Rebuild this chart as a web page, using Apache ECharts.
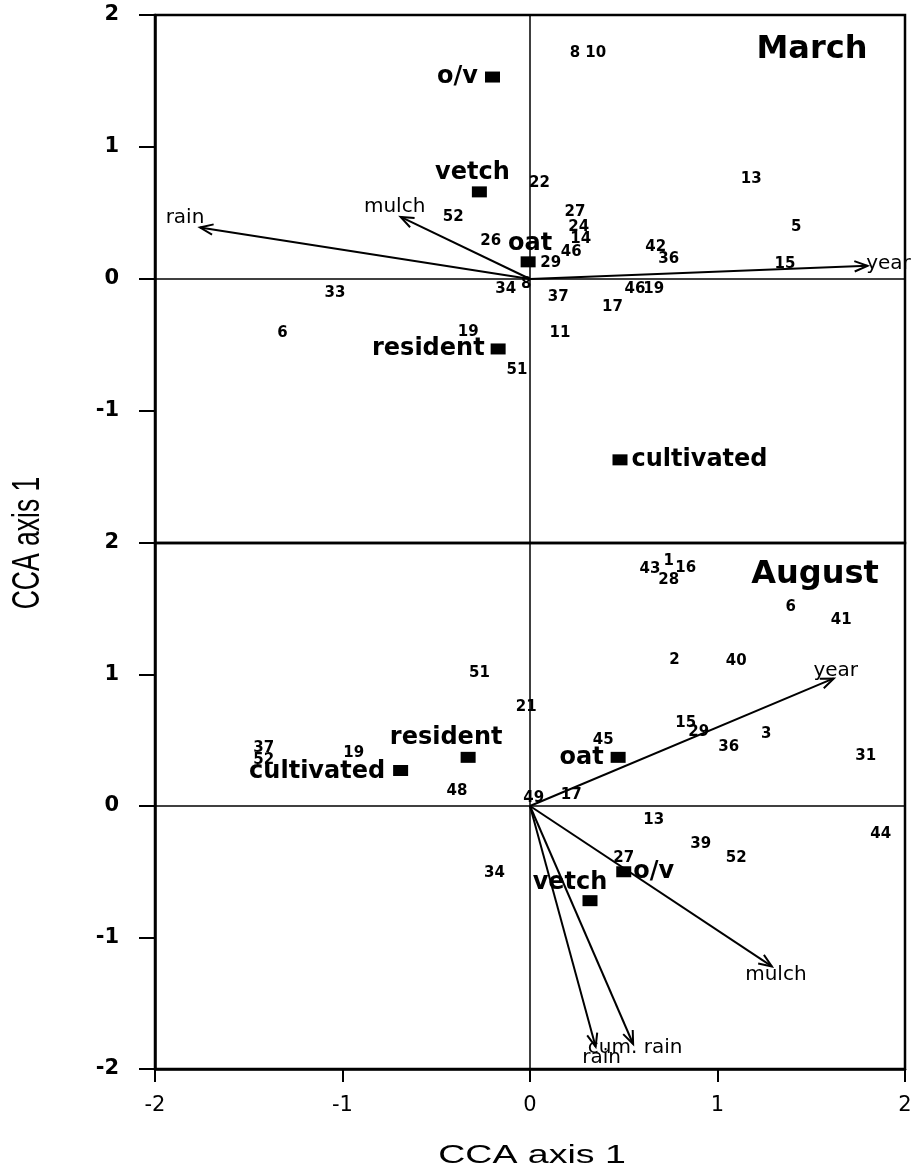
<!DOCTYPE html>
<html><head><meta charset="utf-8">
<script src="https://cdn.jsdelivr.net/npm/echarts@6/dist/echarts.min.js"></script>
<style>html,body{margin:0;padding:0;background:#fff}#c{width:917px;height:1171px}</style>
</head><body><div id="c"></div>
<script>
// ---------------- data ----------------
const axisMin = -2, axisMax = 2, axisStep = 1;

// March panel: sample (site) scores
const marchSampleIds = ['8','10','22','13','27','24','14','46','29','42','36','5','15','52','26','33','34','8','6','19','51','37','46','19','17','11'];
const marchSampleX   = [0.24,0.35,0.05,1.18,0.24,0.26,0.27,0.22,0.11,0.67,0.74,1.42,1.36,-0.41,-0.21,-1.04,-0.13,-0.02,-1.32,-0.33,-0.07,0.15,0.56,0.66,0.44,0.16];
const marchSampleY   = [1.71,1.71,0.73,0.76,0.51,0.39,0.30,0.20,0.12,0.24,0.15,0.39,0.11,0.47,0.29,-0.11,-0.08,-0.04,-0.41,-0.40,-0.69,-0.14,-0.08,-0.08,-0.21,-0.41];
// March panel: treatment centroids
const marchTreatNames = ['o/v','vetch','oat','resident','cultivated'];
const marchTreatX     = [-0.20,-0.27,-0.01,-0.17,0.48];
const marchTreatY     = [1.53,0.66,0.13,-0.53,-1.37];
// March panel: environmental arrows
const marchEnvNames = ['rain','mulch','year'];
const marchEnvX     = [-1.76,-0.69,1.80];
const marchEnvY     = [0.39,0.47,0.10];

// August panel: sample scores
const augSampleIds = ['43','1','16','28','6','41','2','40','21','15','29','3','36','45','31','49','17','51','37','52','19','48','13','39','52','44','27','34'];
const augSampleX   = [0.64,0.74,0.83,0.74,1.39,1.66,0.77,1.10,-0.02,0.83,0.90,1.26,1.06,0.39,1.79,0.02,0.22,-0.27,-1.42,-1.42,-0.94,-0.39,0.66,0.91,1.10,1.87,0.50,-0.19];
const augSampleY   = [1.80,1.86,1.81,1.72,1.51,1.41,1.11,1.10,0.75,0.63,0.56,0.55,0.45,0.50,0.38,0.06,0.08,1.01,0.44,0.35,0.40,0.11,-0.11,-0.29,-0.40,-0.21,-0.40,-0.51];
// August panel: treatment centroids
const augTreatNames = ['cultivated','resident','oat','o/v','vetch'];
const augTreatX     = [-0.69,-0.33,0.47,0.50,0.32];
const augTreatY     = [0.27,0.37,0.37,-0.50,-0.72];
// August panel: environmental arrows
const augEnvNames = ['year','mulch','rain','cum. rain'];
const augEnvX     = [1.62,1.29,0.35,0.55];
const augEnvY     = [0.97,-1.22,-1.83,-1.81];

// ---------------- label placement (styling, not data) ----------------
const treatPlace = {
  march: {'o/v':['left',7,[0,0]], 'vetch':['top',2,[-7,0]], 'oat':['top',1,[2,0]], 'resident':['left',6,[0,0]], 'cultivated':['right',4,[0,0]]},
  august:{'cultivated':['left',8,[0,1]], 'resident':['top',2,[-22,0]], 'oat':['left',7,[0,0]], 'o/v':['right',2,[0,0]], 'vetch':['top',0,[-20,0]]}
};
const envPlace = {
  march: {'rain':[-15,-10], 'mulch':[-6,-10], 'year':[21,-2]},
  august:{'year':[2,-8], 'mulch':[4,8], 'rain':[6,11], 'cum. rain':[2,4]}
};

// ---------------- build ----------------
function samples(ids, xs, ys){ return ids.map((n,i)=>({name:n, value:[xs[i], ys[i]]})); }
function treats(names, xs, ys, place){
  return names.map((n,i)=>{
    const p = place[n];
    return {name:n, value:[xs[i], ys[i]], label:{position:p[0], distance:p[1], offset:p[2]}};
  });
}
function envSeries(names, xs, ys, place, idx){
  return {
    type:'custom', xAxisIndex:idx, yAxisIndex:idx, z:5, silent:true,
    data: names.map((n,i)=>[xs[i], ys[i]]),
    encode:{x:0, y:1},
    renderItem:function(params, api){
      const p0 = api.coord([0,0]);
      const p1 = api.coord([api.value(0), api.value(1)]);
      const ang = Math.atan2(p1[1]-p0[1], p1[0]-p0[0]);
      const L = 14, s = 0.38;
      const h1 = [p1[0]-L*Math.cos(ang-s), p1[1]-L*Math.sin(ang-s)];
      const h2 = [p1[0]-L*Math.cos(ang+s), p1[1]-L*Math.sin(ang+s)];
      const name = names[params.dataIndex];
      const off = place[name];
      return {type:'group', children:[
        {type:'line', shape:{x1:p0[0], y1:p0[1], x2:p1[0], y2:p1[1]}, style:{stroke:'#000', lineWidth:2}},
        {type:'polyline', shape:{points:[h1,p1,h2]}, style:{stroke:'#000', lineWidth:2, fill:null}},
        {type:'text', x:p1[0]+off[0], y:p1[1]+off[1], style:{text:name, fontFamily:'DejaVu Sans', fontSize:20, fill:'#000',
          align:'center', verticalAlign:'middle', textAlign:'center', textVerticalAlign:'middle'}}
      ]};
    }
  };
}
const zeroLines = {
  silent:true, symbol:['none','none'], label:{show:false}, animation:false,
  lineStyle:{color:'#000', width:1.5, type:'solid', opacity:1},
  data:[{xAxis:0},{yAxis:0}]
};
const sampleLabel = {show:true, position:'inside', formatter:'{b}', color:'#000', opacity:1, fontFamily:'DejaVu Sans', fontWeight:'bold', fontSize:15};
const treatLabel = {show:true, formatter:'{b}', color:'#000', opacity:1, fontFamily:'DejaVu Sans', fontWeight:'bold', fontSize:24};

function yAxisCfg(idx, showMin){
  return {gridIndex:idx, type:'value', min:axisMin, max:axisMax, interval:axisStep,
    axisLine:{show:true, onZero:false, lineStyle:{color:'#000', width:2.5}},
    axisTick:{show:true, length:16, lineStyle:{color:'#000', width:2}},
    axisLabel:{showMinLabel:showMin, color:'#000', fontFamily:'DejaVu Sans', fontWeight:'bold', fontSize:21, margin:36},
    splitLine:{show:false}};
}

const option = {
  animation:false,
  backgroundColor:'#fff',
  grid:[
    {left:155, top:15, width:750, height:528, show:true, borderColor:'#000', borderWidth:2.5, backgroundColor:'transparent'},
    {left:155, top:543, width:750, height:526, show:true, borderColor:'#000', borderWidth:2.5, backgroundColor:'transparent'}
  ],
  xAxis:[
    {gridIndex:0, type:'value', min:axisMin, max:axisMax, interval:axisStep, axisLine:{show:false}, axisTick:{show:false}, axisLabel:{show:false}, splitLine:{show:false}},
    {gridIndex:1, type:'value', min:axisMin, max:axisMax, interval:axisStep, position:'bottom',
      axisLine:{show:true, onZero:false, lineStyle:{color:'#000', width:2.5}},
      axisTick:{show:true, length:13, lineStyle:{color:'#000', width:2}},
      axisLabel:{color:'#000', fontFamily:'DejaVu Sans', fontSize:21, margin:26},
      splitLine:{show:false}}
  ],
  yAxis:[ yAxisCfg(0,false), yAxisCfg(1,true) ],
  series:[
    {type:'scatter', xAxisIndex:0, yAxisIndex:0, symbolSize:1, itemStyle:{color:'rgba(0,0,0,0)', opacity:1}, label:sampleLabel,
      data:samples(marchSampleIds, marchSampleX, marchSampleY), markLine:zeroLines, z:3},
    {type:'scatter', xAxisIndex:0, yAxisIndex:0, symbol:'rect', symbolSize:[15,11], itemStyle:{color:'#000', opacity:1}, label:treatLabel,
      data:treats(marchTreatNames, marchTreatX, marchTreatY, treatPlace.march), z:4},
    envSeries(marchEnvNames, marchEnvX, marchEnvY, envPlace.march, 0),
    {type:'scatter', xAxisIndex:1, yAxisIndex:1, symbolSize:1, itemStyle:{color:'rgba(0,0,0,0)', opacity:1}, label:sampleLabel,
      data:samples(augSampleIds, augSampleX, augSampleY), markLine:zeroLines, z:3},
    {type:'scatter', xAxisIndex:1, yAxisIndex:1, symbol:'rect', symbolSize:[15,11], itemStyle:{color:'#000', opacity:1}, label:treatLabel,
      data:treats(augTreatNames, augTreatX, augTreatY, treatPlace.august), z:4},
    envSeries(augEnvNames, augEnvX, augEnvY, envPlace.august, 1)
  ],
  graphic:[
    {type:'text', x:812, y:50, style:{text:'March', fontFamily:'DejaVu Sans', fontWeight:'bold', fontSize:32, fill:'#000', align:'center', verticalAlign:'middle', textAlign:'center', textVerticalAlign:'middle'}},
    {type:'text', x:815, y:575, style:{text:'August', fontFamily:'DejaVu Sans', fontWeight:'bold', fontSize:32, fill:'#000', align:'center', verticalAlign:'middle', textAlign:'center', textVerticalAlign:'middle'}},
    {type:'text', x:28, y:543, rotation:Math.PI/2, scaleX:0.68, style:{text:'CCA axis 1', fontFamily:'Liberation Sans', fontSize:39, fill:'#000', align:'center', verticalAlign:'middle', textAlign:'center', textVerticalAlign:'middle'}},
    {type:'text', x:532, y:1156, scaleX:1.5, style:{text:'CCA axis 1', fontFamily:'Liberation Sans', fontSize:25, fill:'#000', align:'center', verticalAlign:'middle', textAlign:'center', textVerticalAlign:'middle'}}
  ]
};
const chart = echarts.init(document.getElementById('c'), null, {renderer:'canvas'});
chart.setOption(option);
</script>
</body></html>
